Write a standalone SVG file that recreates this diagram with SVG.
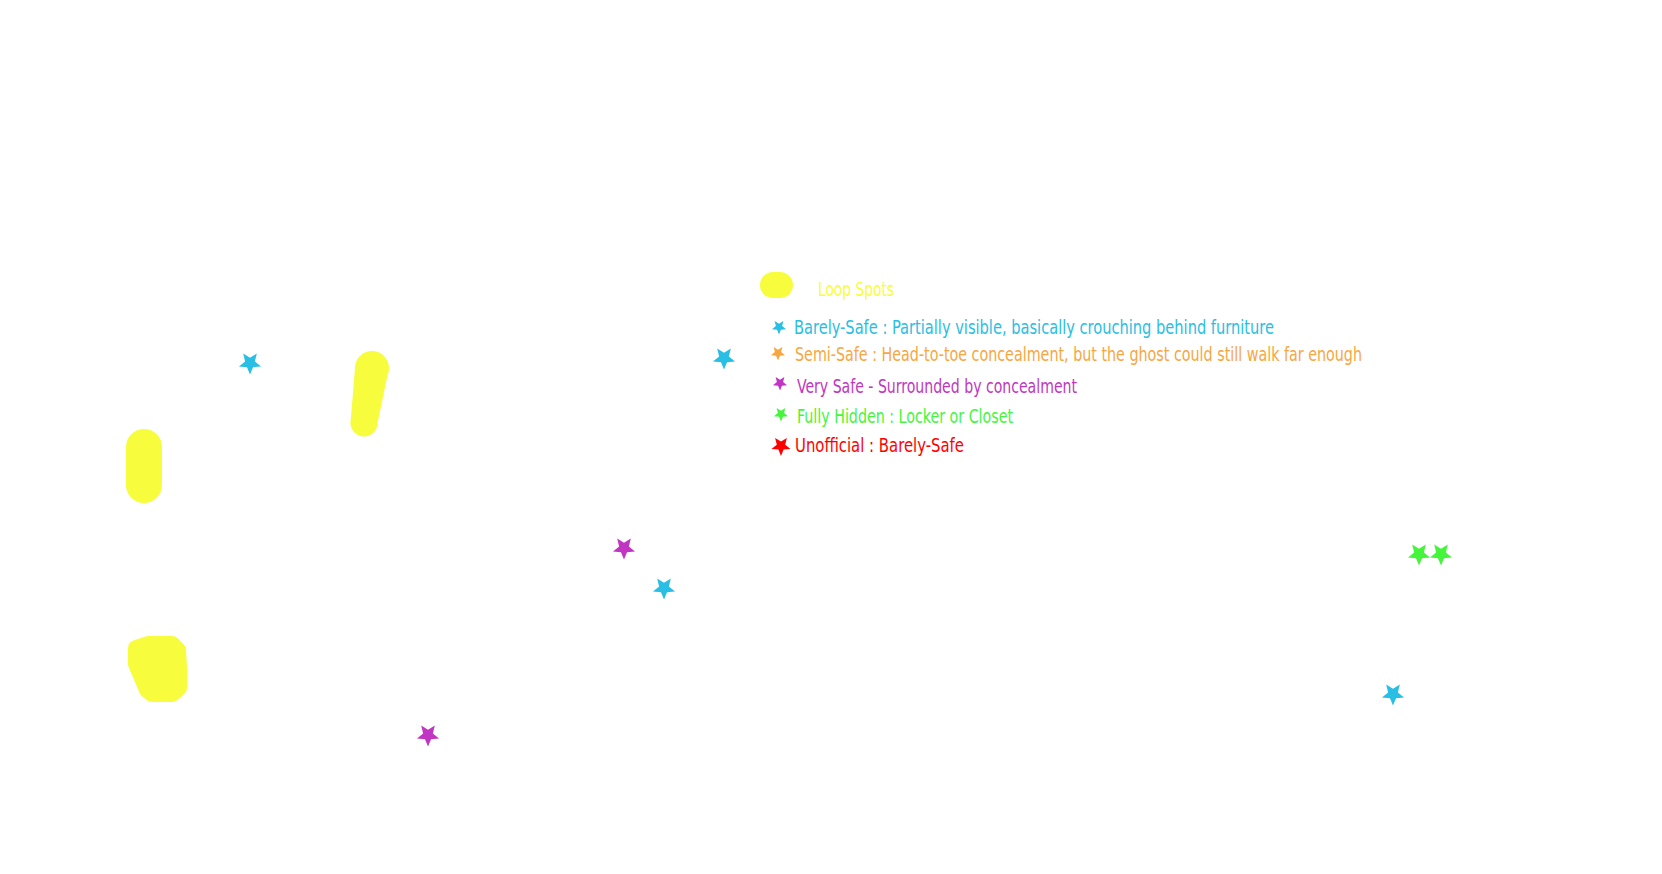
<svg xmlns="http://www.w3.org/2000/svg" xmlns:xlink="http://www.w3.org/1999/xlink" width="1662" height="874" viewBox="0 0 1662 874">
<style>
.t{font-family:"DejaVu Sans Condensed","Liberation Sans Narrow","Liberation Sans",sans-serif;font-size:19px}
.y{fill:#f7fd3c}
.b{fill:#29bee3}
.o{fill:#f8a642}
.p{fill:#c036c2}
.g{fill:#45f53c}
.r{fill:#ff0000}
.blob{fill:#f7fd3c;stroke:#f7fd3c;stroke-width:16;stroke-linejoin:round}
</style>
<defs>
<polygon id="star" points="0,10 -2.6,3.6 -9.51,3.09 -4.2,-1.37 -5.88,-8.09 0,-4.45 5.88,-8.09 4.2,-1.37 9.51,3.09 2.6,3.6"/>
</defs>
<rect width="1662" height="874" fill="#ffffff"/>
<g id="loop-spots">
<path d="M144,447 L144,485" stroke="#f7fd3c" stroke-width="36" stroke-linecap="round" fill="none"/>
<g class="y">
<circle cx="372" cy="368" r="17"/>
<circle cx="364" cy="423" r="13.5"/>
<polygon points="355,368 389,368 377.5,423 350.5,423"/>
</g>
<polygon class="blob" points="136,648 148,644 172,644 178,650 179,668 179,688 172,694 152,694 147,690 136,664"/>
</g>
<g id="stars">
<use xlink:href="#star" class="b" transform="translate(250,363) scale(1.16)"/>
<use xlink:href="#star" class="b" transform="translate(724,358) scale(1.16)"/>
<use xlink:href="#star" class="p" transform="translate(624,548) scale(1.16)"/>
<use xlink:href="#star" class="b" transform="translate(664,588) scale(1.16)"/>
<use xlink:href="#star" class="p" transform="translate(428,735) scale(1.16)"/>
<use xlink:href="#star" class="g" transform="translate(1419,554) scale(1.16)"/>
<use xlink:href="#star" class="g" transform="translate(1441,554) scale(1.16)"/>
<use xlink:href="#star" class="b" transform="translate(1393,694) scale(1.16)"/>
</g>
<g id="legend">
<rect class="y" x="760" y="272" width="33" height="26" rx="13" ry="13"/>
<text class="t y" x="818" y="296" textLength="76" lengthAdjust="spacingAndGlyphs">Loop Spots</text>
<use xlink:href="#star" class="b" transform="translate(779,327) scale(0.74)"/>
<text class="t b" x="794" y="334" textLength="480" lengthAdjust="spacingAndGlyphs">Barely-Safe : Partially visible, basically crouching behind furniture</text>
<use xlink:href="#star" class="o" transform="translate(778,353) scale(0.74)"/>
<text class="t o" x="795" y="361" textLength="567" lengthAdjust="spacingAndGlyphs">Semi-Safe : Head-to-toe concealment, but the ghost could still walk far enough</text>
<use xlink:href="#star" class="p" transform="translate(780,383) scale(0.74)"/>
<text class="t p" x="797" y="393" textLength="280" lengthAdjust="spacingAndGlyphs">Very Safe - Surrounded by concealment</text>
<use xlink:href="#star" class="g" transform="translate(781,414) scale(0.74)"/>
<text class="t g" x="797" y="423" textLength="216" lengthAdjust="spacingAndGlyphs">Fully Hidden : Locker or Closet</text>
<use xlink:href="#star" class="r" transform="translate(781,446) scale(1.0)"/>
<text class="t r" x="795" y="452" textLength="169" lengthAdjust="spacingAndGlyphs">Unofficial : Barely-Safe</text>
</g>
</svg>
